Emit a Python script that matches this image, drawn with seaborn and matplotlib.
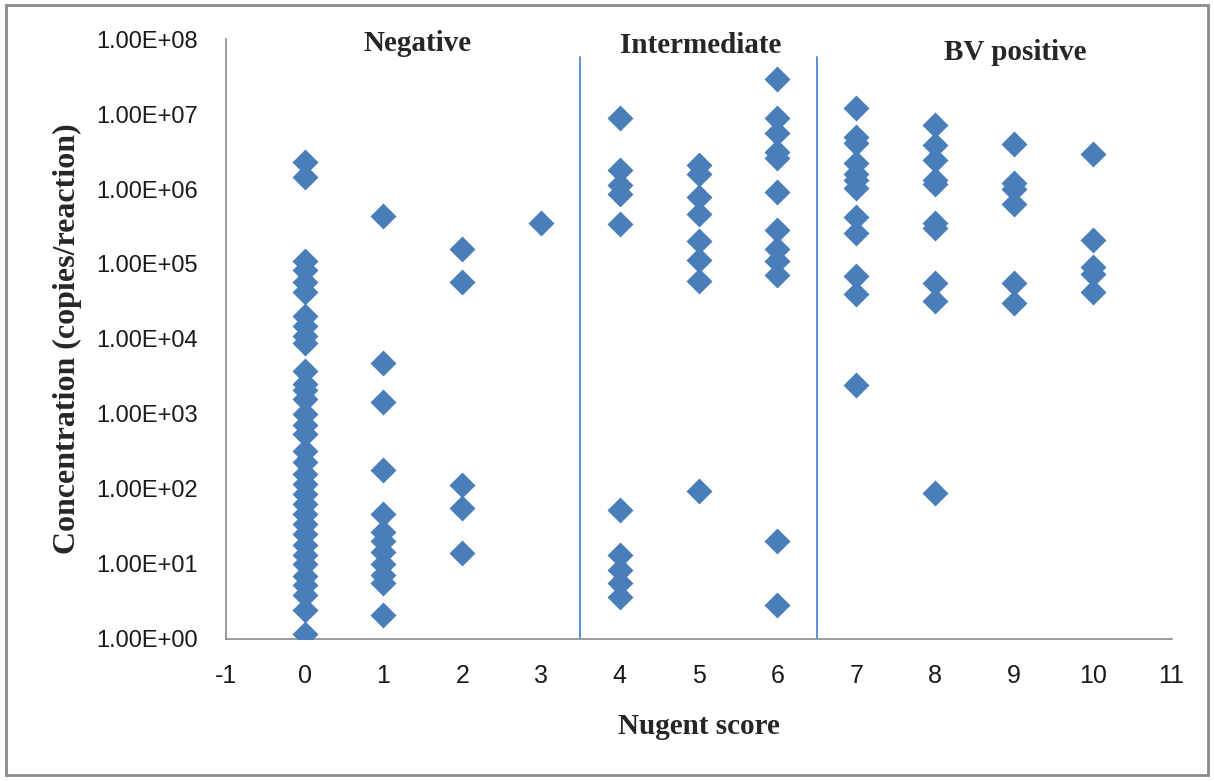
import pandas as pd
import matplotlib.pyplot as plt
import seaborn as sns
from matplotlib.patches import Rectangle
from matplotlib.ticker import FuncFormatter

# concentration (copies/reaction) per Nugent score
score_0 = [2.3e6, 1.45e6, 1.1e5, 8.2e4, 5.7e4, 4.2e4, 2.0e4, 1.5e4, 1.1e4, 8.7e3,
           3.7e3, 2.5e3, 2.1e3, 1.6e3, 1.0e3, 720, 540, 320, 230, 160,
           115, 85, 63, 46, 34, 25, 18, 13, 10, 6.8, 5.3, 3.9, 2.4, 1.17]
score_1 = [4.4e5, 4.8e3, 1.45e3, 180, 46, 27, 20, 14.5, 10, 7.2, 5.5, 2.1]
score_2 = [1.56e5, 5.8e4, 112, 55, 13.8]
score_3 = [3.5e5]
score_4 = [8.9e6, 1.8e6, 1.12e6, 8.7e5, 3.4e5, 53, 13, 8.4, 5.5, 3.6]
score_5 = [2.1e6, 1.6e6, 7.8e5, 4.6e5, 2.05e5, 1.12e5, 6e4, 93]
score_6 = [2.9e7, 8.9e6, 5.6e6, 3.1e6, 2.6e6, 9.1e5, 2.8e5, 1.6e5, 1.1e5, 7.1e4, 20, 2.8]
score_7 = [1.2e7, 4.9e6, 4.1e6, 2.2e6, 1.6e6, 1.3e6, 1.02e6, 4.2e5, 2.6e5, 7.0e4, 4e4, 2.4e3]
score_8 = [7.1e6, 3.9e6, 2.4e6, 1.3e6, 1.15e6, 3.5e5, 3e5, 5.6e4, 3.2e4, 88]
score_9 = [4e6, 1.2e6, 1.0e6, 6.3e5, 5.5e4, 3e4]
score_10 = [2.9e6, 2.1e5, 9e4, 7.4e4, 4.2e4]

groups = ["Negative", "Intermediate", "BV positive"]
group_x = [1.43, 5.02, 9.02]
group_y = [0.993, 0.99, 0.978]
cutoffs = [3.5, 6.5]

all_scores = [score_0, score_1, score_2, score_3, score_4, score_5,
              score_6, score_7, score_8, score_9, score_10]
df = pd.DataFrame(
    [(s, v) for s, vals in enumerate(all_scores) for v in vals],
    columns=["score", "conc"],
)

sns.set_style("white")
plt.rcParams["font.family"] = ["Liberation Sans", "DejaVu Sans"]
plt.rcParams["axes.unicode_minus"] = False

fig = plt.figure(figsize=(12.14, 7.81), dpi=100)
ax = fig.add_axes([0.186, 0.182, 0.779, 0.768])

sns.scatterplot(data=df, x="score", y="conc", marker="D", s=175,
                color="#4A7EBB", linewidth=0, ax=ax, zorder=3)

for c in cutoffs:
    ax.axvline(c, ymin=0, ymax=0.97, color="#5B8FD6", lw=1.4, zorder=2)

ax.set_yscale("log")
ax.set_ylim(1, 1e8)
ax.set_xlim(-1, 11)
ax.set_xticks(range(-1, 12))
ax.set_yticks([10.0 ** k for k in range(0, 9)])
ax.minorticks_off()
ax.yaxis.set_major_formatter(FuncFormatter(lambda v, p: f"{v:.2E}"))
ax.tick_params(axis="y", labelsize=17, length=0, pad=20, colors="#1a1a1a")
ax.tick_params(axis="x", labelsize=18, length=0, pad=18, colors="#1a1a1a")

for side in ["top", "right"]:
    ax.spines[side].set_visible(False)
for side in ["left", "bottom"]:
    ax.spines[side].set_color("#8a8a8a")
    ax.spines[side].set_linewidth(1.2)

ax.set_xlabel("Nugent score", family="Liberation Serif", fontweight="bold",
              fontsize=21, labelpad=18)
ax.set_ylabel("Concentration (copies/reaction)", family="Liberation Serif",
              fontweight="bold", fontsize=23, labelpad=10)

for name, gx, gy in zip(groups, group_x, group_y):
    ax.text(gx, gy, name, transform=ax.get_xaxis_transform(), ha="center",
            va="center", family="Liberation Serif", fontweight="bold",
            fontsize=21)

fig.patches.append(Rectangle((0.005, 0.008), 0.99, 0.985, transform=fig.transFigure,
                             fill=False, edgecolor="#8a8a8a", lw=2))

fig.savefig("out.png", dpi=100)
